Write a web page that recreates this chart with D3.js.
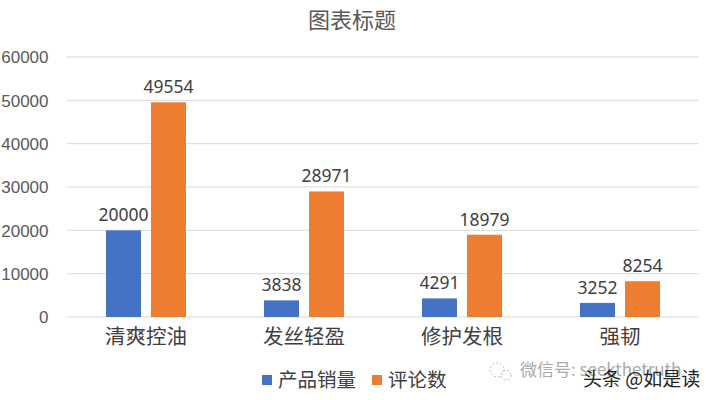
<!DOCTYPE html>
<html><head><meta charset="utf-8">
<script src="https://cdn.jsdelivr.net/npm/d3@7"></script>
<style>
body{margin:0;background:#fff;}
svg{display:block;font-family:"Noto Sans","Noto Sans CJK SC",sans-serif;}
</style></head>
<body>
<svg id="chart" width="706" height="400"></svg>
<script>
const categories = ["清爽控油","发丝轻盈","修护发根","强韧"];
const seriesNames = ["产品销量","评论数"];
const sales = [20000,3838,4291,3252];
const reviews = [49554,28971,18979,8254];
const yTicks = [0,10000,20000,30000,40000,50000,60000];
const colors = ["#4472C4","#ED7D31"];

const svg = d3.select("#chart");
const x = d3.scaleBand().domain(categories).range([67,699]);
const y = d3.scaleLinear().domain([0,60000]).range([317,57]);
const inner = d3.scaleBand().domain(seriesNames).range([x.bandwidth()/2-40, x.bandwidth()/2+40]).paddingInner(0.222);

// gridlines
svg.append("g").selectAll("line").data(yTicks).join("line")
  .attr("x1",67).attr("x2",699)
  .attr("y1",d=>y(d)).attr("y2",d=>y(d))
  .attr("stroke","#d9d9d9").attr("stroke-width",1);

// y axis labels
const yAxis = d3.axisLeft(y).tickValues(yTicks).tickSize(0).tickPadding(0).tickFormat(d3.format("d"));
const ya = svg.append("g").attr("transform","translate(48.5,0)").call(yAxis);
ya.select(".domain").remove();
ya.selectAll("text").attr("font-size",17).attr("fill","#595959").attr("dy","0.35em");

// x axis labels
const xAxis = d3.axisBottom(x).tickSize(0).tickPadding(0);
const xa = svg.append("g").attr("transform","translate(0,329)").call(xAxis);
xa.select(".domain").remove();
xa.selectAll("text").attr("font-size",20.5).attr("fill","#404040")
  .attr("font-family","'Noto Sans CJK SC',sans-serif");

const data = categories.map((c,i)=>({c, vals:[sales[i],reviews[i]]}));
const groups = svg.append("g").selectAll("g").data(data).join("g")
  .attr("transform",d=>`translate(${x(d.c)},0)`);
groups.selectAll("rect").data(d=>d.vals.map((v,j)=>({v,s:seriesNames[j],j}))).join("rect")
  .attr("x",d=>inner(d.s)).attr("width",inner.bandwidth())
  .attr("y",d=>y(d.v)).attr("height",d=>y(0)-y(d.v))
  .attr("fill",d=>colors[d.j]);
groups.selectAll("text.lbl").data(d=>d.vals.map((v,j)=>({v,s:seriesNames[j],j}))).join("text")
  .attr("class","lbl")
  .attr("x",d=>inner(d.s)+inner.bandwidth()/2).attr("y",d=>y(d.v)-9)
  .attr("text-anchor","middle").attr("font-size",17.5).attr("fill","#404040")
  .text(d=>d.v);

// title
svg.append("text").attr("x",352).attr("y",28).attr("text-anchor","middle")
  .attr("font-size",22).attr("fill","#595959")
  .attr("font-family","'Noto Sans CJK SC',sans-serif").text("图表标题");

// legend
const legX = [262,372];
const leg = svg.append("g").selectAll("g").data(seriesNames).join("g")
  .attr("transform",(d,i)=>`translate(${legX[i]},0)`);
leg.append("rect").attr("x",0).attr("y",375).attr("width",10).attr("height",10)
  .attr("fill",(d,i)=>colors[i]);
leg.append("text").attr("x",16).attr("y",387).attr("font-size",19.5).attr("fill","#404040")
  .attr("font-family","'Noto Sans CJK SC',sans-serif").text(d=>d);

// watermark
const wm = svg.append("g");
wm.append("circle").attr("cx",497).attr("cy",370).attr("r",7).attr("fill","none").attr("stroke","#bbb").attr("stroke-dasharray","2,2");
wm.append("circle").attr("cx",506).attr("cy",375).attr("r",5).attr("fill","none").attr("stroke","#bbb").attr("stroke-dasharray","2,2");
wm.append("text").attr("x",520).attr("y",376).attr("font-size",17).attr("fill","#aaa")
  .attr("font-family","'Noto Sans CJK SC',sans-serif").text("微信号: seekthetruth");
wm.append("text").attr("x",583).attr("y",386).attr("font-size",19).attr("fill","#222")
  .attr("font-family","'Noto Sans CJK SC',sans-serif").text("头条 @如是读");
</script>
</body></html>
